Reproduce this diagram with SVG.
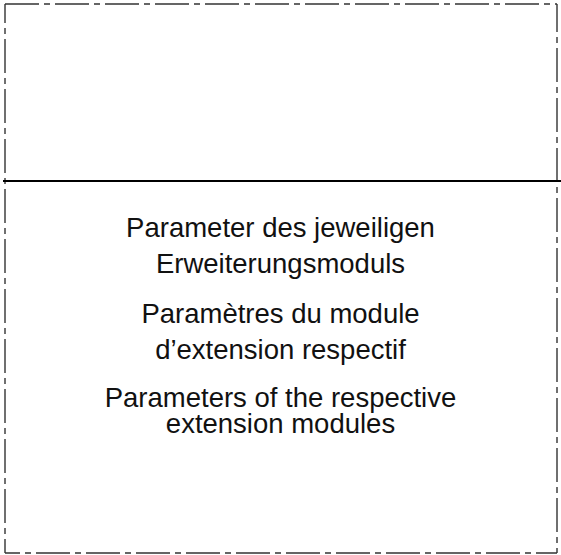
<svg xmlns="http://www.w3.org/2000/svg" width="561" height="555" viewBox="0 0 561 555">
<style>
.b{fill:none;stroke:#333;stroke-width:1.4;stroke-dasharray:34 5 6 5}
.t{font-family:"Liberation Sans",Arial,Helvetica,sans-serif;font-size:27.5px;fill:#111;text-anchor:middle}
</style>
<rect width="561" height="555" fill="#fff"/>
<g id="frame">
<line class="b" x1="5" y1="4" x2="557" y2="4"/>
<line class="b" x1="5" y1="553" x2="557" y2="553" stroke-dashoffset="19"/>
<line class="b" x1="5" y1="4" x2="5" y2="553" stroke-dashoffset="15"/>
<line class="b" x1="557" y1="4" x2="557" y2="553" stroke-dashoffset="6"/>
</g>
<g id="divider">
<line x1="3" y1="181" x2="561" y2="181" stroke="#000" stroke-width="2"/>
</g>
<g id="labels">
<text class="t" x="280.5" y="237">Parameter des jeweiligen</text>
<text class="t" x="280.5" y="273">Erweiterungsmoduls</text>
<text class="t" x="280.5" y="323">Paramètres du module</text>
<text class="t" x="280.5" y="359">d’extension respectif</text>
<text class="t" x="280.5" y="407">Parameters of the respective</text>
<text class="t" x="280.5" y="433">extension modules</text>
</g>
</svg>
